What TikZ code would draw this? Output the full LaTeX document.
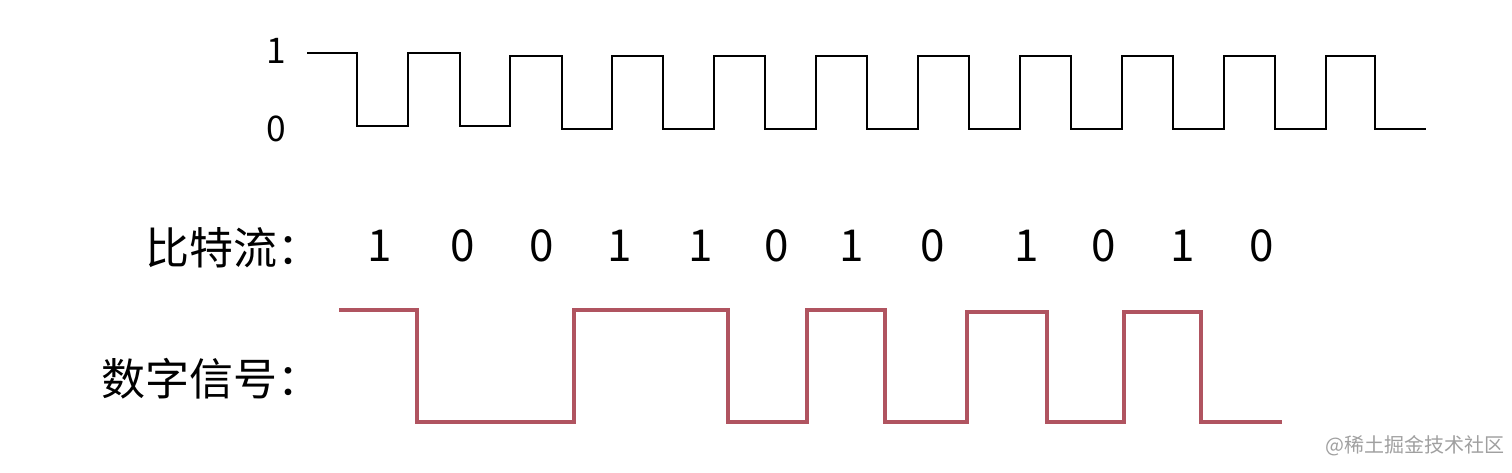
\documentclass[tikz,border=0pt]{standalone}
\usepackage{fontspec}
\setmainfont{Noto Sans CJK SC}
\definecolor{sigred}{RGB}{176,84,96}
\definecolor{wmgray}{RGB}{160,160,160}
\begin{document}
\begin{tikzpicture}[x=0.75pt,y=-0.75pt,
  clk/.style={line width=1.7pt,black,line join=miter},
  sig/.style={line width=3pt,sigred,line join=miter},
  lbl/.style={font=\fontsize{33}{33}\selectfont,inner sep=0pt,anchor=west},
  bit/.style={font=\fontsize{33}{33}\selectfont,inner sep=0pt},
  lvl/.style={font=\fontsize{26.5}{26.5}\selectfont,inner sep=0pt},
  wm/.style={font=\fontsize{15}{15}\selectfont,inner sep=0pt,wmgray}]
\useasboundingbox (0,0) rectangle (1512,472);
% level labels
\node[lvl] (one) at (276,51) {1};
\node[lvl] (zero) at (276,129) {0};
% clock
\draw[clk] (307,53) -| (357,126) -| (408,53) -| (460,126) -| (510,56)
  -| (562,129) -| (612,56) -| (663,129) -| (714,56) -| (765,129)
  -| (816,56) -| (867,129) -| (918,56) -| (969,129) -| (1020,56)
  -| (1071,129) -| (1122,56) -| (1173,129) -| (1224,56) -| (1275,129)
  -| (1326,56) -| (1375,129) -- (1426,129);
% bit stream
\node[lbl] (bsl) at (145,248) {比特流：};
\node[bit] (b1) at (380,246) {1};
\node[bit] (b2) at (463,246) {0};
\node[bit] (b3) at (542,246) {0};
\node[bit] (b4) at (620,246) {1};
\node[bit] (b5) at (701,246) {1};
\node[bit] (b6) at (777,246) {0};
\node[bit] (b7) at (852,246) {1};
\node[bit] (b8) at (933,246) {0};
\node[bit] (b9) at (1027,246) {1};
\node[bit] (b10) at (1104,246) {0};
\node[bit] (b11) at (1183,246) {1};
\node[bit] (b12) at (1262,246) {0};
% digital signal
\node[lbl] (dsl) at (101,379) {数字信号：};
\draw[sig] (339,310) -| (417,422) -| (574,310) -| (728,422) -| (807,310)
  -| (885,422) -| (967,312) -| (1047,422) -| (1124,312) -| (1201,422)
  -- (1282,422);
% watermark
\node[wm] (wmk) at (1415,446) {@稀土掘金技术社区};
\end{tikzpicture}
\end{document}
